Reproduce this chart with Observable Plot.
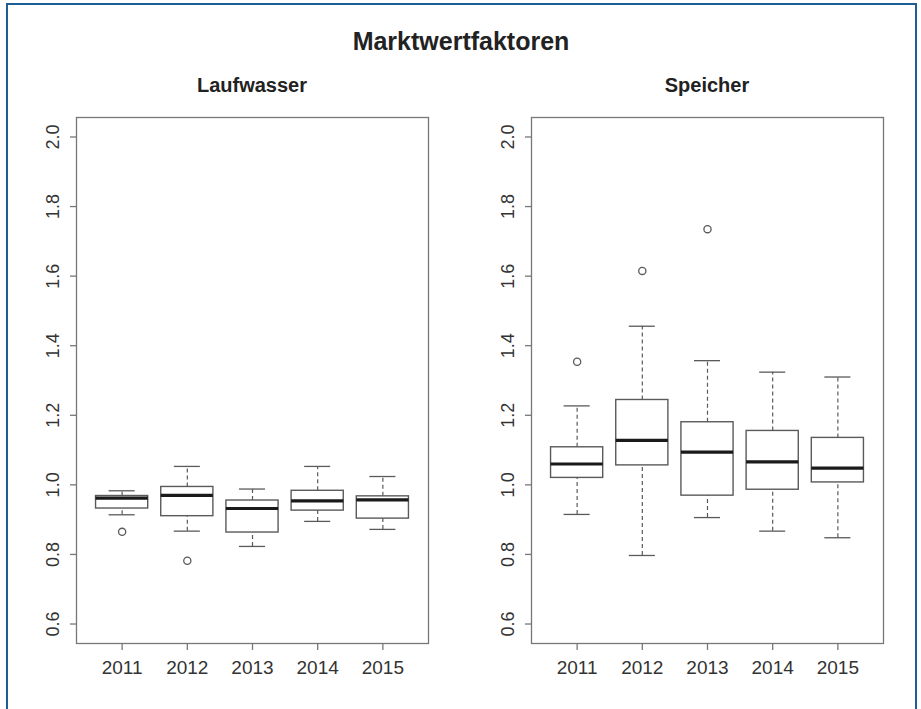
<!DOCTYPE html>
<html>
<head>
<meta charset="utf-8">
<script src="https://cdn.jsdelivr.net/npm/d3@7"></script>
<script src="https://cdn.jsdelivr.net/npm/@observablehq/plot@0.6"></script>
<style>
  html, body { margin: 0; padding: 0; background: #fff; }
  body { width: 921px; height: 709px; position: relative; overflow: hidden; font-family: "Liberation Sans", Arial, sans-serif; color: #333; }
  #frame { position: absolute; left: 6px; top: 3px; width: 907px; height: 720px; border: 2px solid #1d5f94; border-bottom: none; }
  .ttl { position: absolute; font-weight: bold; color: #222; text-align: center; white-space: nowrap; transform: translate(-50%, -50%); }
  .panel { position: absolute; top: 100px; }
</style>
</head>
<body>
<div id="frame"></div>
<div class="ttl" style="left:461px; top:41px; font-size:25px;">Marktwertfaktoren</div>
<div class="ttl" style="left:252px; top:85px; font-size:20px;">Laufwasser</div>
<div class="ttl" style="left:707px; top:85px; font-size:20px;">Speicher</div>
<div id="p1" class="panel" style="left:0px;"></div>
<div id="p2" class="panel" style="left:455px;"></div>
<script>
// ---- data ----
const years = ["2011", "2012", "2013", "2014", "2015"];
const yTicks = [0.6, 0.8, 1.0, 1.2, 1.4, 1.6, 1.8, 2.0];

// Laufwasser
const laufLo  = [0.914, 0.867, 0.823, 0.895, 0.872];
const laufQ1  = [0.932, 0.910, 0.863, 0.926, 0.903];
const laufMed = [0.962, 0.970, 0.932, 0.954, 0.957];
const laufQ3  = [0.968, 0.994, 0.955, 0.983, 0.967];
const laufHi  = [0.983, 1.053, 0.988, 1.053, 1.024];
const laufOutYear = ["2011", "2012"];
const laufOutVal  = [0.865, 0.782];

// Speicher
const speiLo  = [0.915, 0.797, 0.906, 0.867, 0.848];
const speiQ1  = [1.020, 1.056, 0.969, 0.986, 1.007];
const speiMed = [1.060, 1.128, 1.094, 1.066, 1.048];
const speiQ3  = [1.108, 1.244, 1.180, 1.155, 1.135];
const speiHi  = [1.227, 1.456, 1.357, 1.324, 1.310];
const speiOutYear = ["2011", "2012", "2013"];
const speiOutVal  = [1.354, 1.615, 1.735];

function makeTable(lo, q1, med, q3, hi) {
  return years.map((y, k) => ({year: y, i: k + 1, lo: lo[k], q1: q1[k], med: med[k], q3: q3[k], hi: hi[k]}));
}
function makeOut(oy, ov) {
  return oy.map((y, k) => ({i: years.indexOf(y) + 1, v: ov[k]}));
}

const gray = "#5a5a5a";
function panel(stats, outs) {
  const bw = 0.4, cw = 0.2;
  return Plot.plot({
    width: 460, height: 609,
    marginLeft: 76, marginRight: 32, marginTop: 17, marginBottom: 66,
    style: {fontFamily: "'Liberation Sans', Arial, sans-serif", color: "#333", background: "transparent"},
    x: {type: "linear", domain: [0.3, 5.7]},
    y: {domain: [0.544, 2.056]},
    marks: [
      Plot.frame({stroke: "#777", strokeWidth: 1.3}),
      Plot.axisY({ticks: yTicks, tickFormat: d3.format(".1f"), tickSize: 6, tickPadding: 12, tickRotate: -90,
                  fontSize: 18, stroke: "#777", strokeWidth: 1.3, fill: "#333", label: null}),
      Plot.axisX({ticks: years.map((y, k) => k + 1), tickFormat: i => String(years[i - 1]), tickSize: 7, tickPadding: 10,
                  fontSize: 19, stroke: "#777", strokeWidth: 1.3, fill: "#333", label: null}),
      Plot.ruleX(stats, {x: "i", y1: "q3", y2: "hi", stroke: gray, strokeWidth: 1.2, strokeDasharray: "4,3"}),
      Plot.ruleX(stats, {x: "i", y1: "lo", y2: "q1", stroke: gray, strokeWidth: 1.2, strokeDasharray: "4,3"}),
      Plot.ruleY(stats, {y: "hi", x1: d => d.i - cw, x2: d => d.i + cw, stroke: gray, strokeWidth: 1.3}),
      Plot.ruleY(stats, {y: "lo", x1: d => d.i - cw, x2: d => d.i + cw, stroke: gray, strokeWidth: 1.3}),
      Plot.rect(stats, {x1: d => d.i - bw, x2: d => d.i + bw, y1: "q1", y2: "q3", fill: "white", stroke: gray, strokeWidth: 1.4}),
      Plot.ruleY(stats, {y: "med", x1: d => d.i - bw, x2: d => d.i + bw, stroke: "#1a1a1a", strokeWidth: 3.2}),
      Plot.dot(outs, {x: "i", y: "v", r: 3.6, stroke: gray, strokeWidth: 1.3, fill: "none"})
    ]
  });
}

document.getElementById("p1").append(panel(makeTable(laufLo, laufQ1, laufMed, laufQ3, laufHi), makeOut(laufOutYear, laufOutVal)));
document.getElementById("p2").append(panel(makeTable(speiLo, speiQ1, speiMed, speiQ3, speiHi), makeOut(speiOutYear, speiOutVal)));
</script>
</body>
</html>
